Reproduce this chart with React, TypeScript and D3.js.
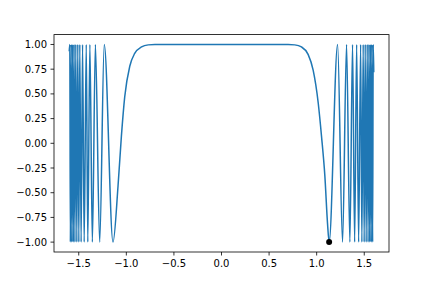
import React from "react";
import * as d3 from "d3";

// Local maxima (value 1)
const peaksX = [
  -1.594, -1.58, -1.565, -1.549, -1.531, -1.51, -1.489, -1.46, -1.421, -1.383, -1.325, -1.232,
  1.22, 1.314, 1.377, 1.42, 1.462, 1.489, 1.51, 1.531, 1.549, 1.565, 1.58, 1.594,
];
// Local minima (value -1)
const troughsX = [
  -1.588, -1.573, -1.557, -1.54, -1.52, -1.499, -1.475, -1.443, -1.405, -1.357, -1.28, -1.14,
  1.131, 1.272, 1.349, 1.399, 1.441, 1.475, 1.499, 1.52, 1.54, 1.557, 1.573, 1.588,
];
// Shoulder of the big dips and the flat plateau
const shoulderX = [-1.087, -1.052, -1.017, -0.964, -0.912, -0.84, -0.77, -0.7, -0.5, 0, 0.5, 0.7, 0.77, 0.84, 0.91, 0.963, 1.016, 1.051, 1.086, 1.114];
const shoulderY = [-0.43, 0.07, 0.47, 0.78, 0.91, 0.975, 0.996, 1.0, 1.0, 1.0, 1.0, 1.0, 0.996, 0.975, 0.9, 0.74, 0.41, 0.07, -0.33, -0.81];
// End points of the series
const endX = [-1.6, 1.6];
const endY = [0.93, 0.72];
// Highlighted point
const markerX = 1.131;
const markerY = -1;

const xTicks = [-1.5, -1.0, -0.5, 0.0, 0.5, 1.0, 1.5];
const yTicks = [-1.0, -0.75, -0.5, -0.25, 0.0, 0.25, 0.5, 0.75, 1.0];

const W = 432;
const H = 288;
const L = 54;
const R = 389;
const T = 34.6;
const B = 252;

export default function App() {
  const pts: [number, number][] = [
    ...peaksX.map((x) => [x, 1] as [number, number]),
    ...troughsX.map((x) => [x, -1] as [number, number]),
    ...shoulderX.map((x, i) => [x, shoulderY[i]] as [number, number]),
    ...endX.map((x, i) => [x, endY[i]] as [number, number]),
  ].sort((a, b) => a[0] - b[0]);

  const xs = d3.scaleLinear().domain([-1.6 - 0.16, 1.6 + 0.16]).range([L, R]);
  const ys = d3.scaleLinear().domain([-1.1, 1.1]).range([B, T]);
  const line = d3
    .line<[number, number]>()
    .x((d) => xs(d[0]))
    .y((d) => ys(d[1]))
    .curve(d3.curveMonotoneX);

  const fx = d3.format(".1f");
  const fy = d3.format(".2f");
  const font = "DejaVu Sans, sans-serif";

  return (
    <svg width={W} height={H} style={{ position: "absolute", left: 0, top: 0 }} xmlns="http://www.w3.org/2000/svg">
      <rect x={0} y={0} width={W} height={H} fill="#fff" />
      <defs>
        <clipPath id="clip">
          <rect x={L} y={T} width={R - L} height={B - T} />
        </clipPath>
      </defs>
      <g clipPath="url(#clip)">
        <path d={line(pts) || ""} fill="none" stroke="#1f77b4" strokeWidth={1.5} strokeLinejoin="round" />
        <circle cx={xs(markerX)} cy={ys(markerY)} r={3} fill="#000" />
      </g>
      <rect x={L} y={T} width={R - L} height={B - T} fill="none" stroke="#000" strokeWidth={0.8} />
      {xTicks.map((t) => (
        <g key={"x" + t}>
          <line x1={xs(t)} x2={xs(t)} y1={B} y2={B + 3.5} stroke="#000" strokeWidth={0.8} />
          <text x={xs(t)} y={B + 7} dy="0.76em" textAnchor="middle" fontFamily={font} fontSize={10} fill="#000">
            {fx(t)}
          </text>
        </g>
      ))}
      {yTicks.map((t) => (
        <g key={"y" + t}>
          <line x1={L - 3.5} x2={L} y1={ys(t)} y2={ys(t)} stroke="#000" strokeWidth={0.8} />
          <text x={L - 7} y={ys(t)} dy="0.36em" textAnchor="end" fontFamily={font} fontSize={10} fill="#000">
            {fy(t)}
          </text>
        </g>
      ))}
    </svg>
  );
}
